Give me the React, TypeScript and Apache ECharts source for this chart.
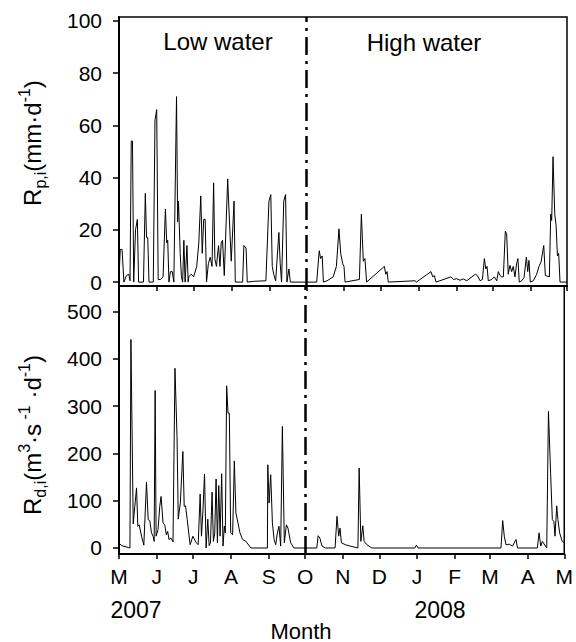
import React, { useEffect, useRef } from "react";
import * as echarts from "echarts";

const monthTicks = [0, 31, 61, 92, 123, 153, 184, 214, 245, 276, 305, 336, 366];
const monthLabels = ["M", "J", "J", "A", "S", "O", "N", "D", "J", "F", "M", "A", "M"];
const precipTicks = [0, 20, 40, 60, 80, 100];
const dischargeTicks = [0, 100, 200, 300, 400, 500];
const dividerDay = 153;

const precipDays = [0,1,2.5,4,6,8,9,10,11,12,13.5,15,16,20,21.5,22.5,23.5,24.5,28,29.4,30.8,32,34,36,37.9,39,39.8,40.8,42,43.5,44.8,47,47.9,48.6,50,51,52,53,54,55.5,56.5,57,59,61,63.5,65.2,66.8,68,69.2,70.4,71.5,73,74.5,76,77.3,78.3,79.6,81.3,82.5,83.5,84.6,86,88.8,90,91.7,94,95,101,102,103.8,104.8,110,120,122.5,124,125.2,126.4,128,130.6,131.7,132.8,134.6,136.1,137.2,138.8,140,161.5,163.6,164.7,166,167,170,175,177.6,179.7,181.1,182.8,183.8,184.7,196.4,198,199.6,200.9,202.3,216.8,217.9,219,220,241.9,243,254.9,256.3,257.6,259,271.2,273.2,275.9,278.6,281.3,284.1,291.1,292.8,295,296.9,298.5,299.6,300.7,301.7,304.5,306.6,308.6,309.9,311.3,312.6,314,315.6,316.7,318,319.4,320.8,322.1,323.5,324.8,325.9,327,328.9,330.9,332.8,333.9,334.9,336,338.5,341.2,343.1,344.8,347,348.3,351.6,352.7,353.5,354.6,356,357.1,358.2,359.2,360.3,366];
const precipValues = [1,12.5,12.5,0,2.5,3,0.5,54,54,0,20,24,0,0,34,17,17,0,0,62,66,1,1,2,28,15,16,0,4,4,0,71,23,31,11,2,0,16,0,14,0,2,3,2,6,15,33,11,24,24,0,7,9.5,6,38,9,6,14,6,15,16,2.5,39.5,26,8,31,0,0,14,13,0,0.3,0.5,31,33.5,6,3,0.5,19,7,0,31,33.5,0,5,0,0,12,9,10,0,0.5,2,6,20.4,11,7,6,0,1,26,8,9,0,6,3,4,0,0.5,0,4,2,2.5,0,2,1,1.3,0.7,1.2,0.5,3,2.5,0.5,1,9,5,6,0.5,1,2,0.5,4,2.5,2,2,19.5,18.5,3,6.4,4,6,2,7,9,0,0.5,1.7,9.6,4,8.3,0,0.5,3,6,7.7,14,2.5,2,26,23.6,48,26,21.7,10,11,0,0];

const dischargeDays = [0,2.2,7.6,9,9.8,11.7,13,14.4,15.5,16.6,18.5,20.4,22.6,24,25.3,26.7,28,28.9,29.7,30.5,32.1,33.5,34.6,36.2,37.6,38.9,40,41.1,42.7,44.4,46,47.7,48.7,50.4,52.5,53.6,54.7,56.1,57.5,58.5,60.7,63.5,65.1,66.7,67.8,68.9,70.3,71.6,73,74.1,75.2,76.5,77.6,78.7,79.8,80.9,82,83.1,84.4,85.5,86.6,87.4,88.5,89.6,90.7,91.8,93.4,94.8,96.1,97.8,99.4,101.6,104.4,108.4,122,122.3,123.4,124.7,126.1,127.5,128.8,130.2,131.5,132.9,134.3,135.9,137.6,138.9,141.1,143.8,162.6,163.7,165.1,166.9,169.6,177.6,179.2,180.6,181.7,182.8,186,190.1,196.4,197.4,198.8,200.4,201.5,203.7,207.8,243.2,244.5,245.9,314,315.4,316.7,318.1,320.8,323.5,326.3,327.6,343.9,345.3,346.7,348,351.6,353,354.8,356.2,357.5,358.4,359.8,360.8,362.2,364.3,366];
const dischargeValues = [10.6,5,1,0,441,51,88,127,46,49,25,6,139,60,58,32,25,14,333,25,39,88,109,53,49,28,35,18,21,13,380,236,61,95,204,88,89,60,28,7,25,11,7,114,25,74,156,0,61,5,11,118,14,32,146,11,132,25,157,4,46,32,343,285,285,32,28,184,74,53,32,18,14,0,0,176,95,155,53,18,7,32,46,4,257,11,49,42,11,0,0,26,21,4,0,0,67,25,42,11,7,4,0,169,14,47,14,7,0,0,6,0,0,58,25,7,8,4,18,0,0,32,4,14,0,289,158,60,56,25,89,60,32,14,11];

const FONT = "'Liberation Sans', Arial, Helvetica, sans-serif";

function zip(a: number[], b: number[]) {
  return a.map((d, i) => [d, b[i]]);
}

export default function App() {
  const ref = useRef<HTMLDivElement>(null);
  useEffect(() => {
    if (!ref.current) return;
    const chart = echarts.init(ref.current, null, { renderer: "svg" });
    const dividerLine = {
      silent: true,
      symbol: ["none", "none"],
      label: { show: false },
      lineStyle: { color: "#000", width: 2.5, type: [18, 6, 3, 6] },
      data: [{ xAxis: dividerDay }],
    };
    const xBase = (gridIndex: number, showLabels: boolean) => ({
      type: "value",
      gridIndex,
      min: 0,
      max: 366,
      splitLine: { show: false },
      axisLine: { show: true, onZero: false, lineStyle: { color: "#000", width: 2 } },
      axisTick: {
        show: true,
        inside: false,
        length: 5,
        customValues: monthTicks,
        lineStyle: { color: "#000", width: 1.5 },
      },
      axisLabel: {
        show: showLabels,
        customValues: monthTicks,
        margin: 12,
        color: "#000",
        fontSize: 21,
        fontFamily: FONT,
        formatter: (v: number) => {
          const i = monthTicks.indexOf(Math.round(v));
          return i >= 0 ? monthLabels[i] : "";
        },
      },
    });
    const yBase = (gridIndex: number, min: number, max: number, ticks: number[]) => ({
      type: "value",
      gridIndex,
      min,
      max,
      splitLine: { show: false },
      axisLine: { show: true, onZero: false, lineStyle: { color: "#000", width: 2 } },
      axisTick: {
        show: true,
        inside: false,
        length: 6,
        customValues: ticks,
        lineStyle: { color: "#000", width: 1.5 },
      },
      axisLabel: {
        show: true,
        customValues: ticks,
        margin: 17,
        color: "#000",
        fontSize: 21,
        fontFamily: FONT,
      },
    });
    const nameRich = {
      n: { fontSize: 24, lineHeight: 32, fontFamily: FONT, fill: "#000", color: "#000" },
      s: { fontSize: 16, lineHeight: 16, verticalAlign: "bottom", fontFamily: FONT, fill: "#000", color: "#000" },
      u: { fontSize: 16, lineHeight: 16, verticalAlign: "top", fontFamily: FONT, fill: "#000", color: "#000" },
    };
    const textEl = (x: number, y: number, text: string, size = 20) => ({
      type: "text",
      x,
      y,
      silent: true,
      style: {
        text,
        fill: "#000",
        fontSize: size,
        fontFamily: FONT,
        textAlign: "center",
        textVerticalAlign: "middle",
        align: "center",
        verticalAlign: "middle",
      },
    });
    const nameEl = (x: number, y: number, text: string) => ({
      type: "text",
      x,
      y,
      rotation: Math.PI / 2,
      silent: true,
      style: {
        text,
        rich: nameRich,
        fill: "#000",
        fontFamily: FONT,
        fontSize: 24,
        textAlign: "center",
        textVerticalAlign: "middle",
        align: "center",
        verticalAlign: "middle",
      },
    });
    chart.setOption({
      animation: false,
      backgroundColor: "#fff",
      grid: [
        { left: 119, width: 448, top: 17, height: 269, show: true, borderColor: "#000", borderWidth: 1.5, backgroundColor: "transparent" },
        { left: 119, width: 448, top: 286, height: 268, show: true, borderColor: "#000", borderWidth: 1.5, backgroundColor: "transparent" },
      ],
      xAxis: [xBase(0, false), xBase(1, true)],
      yAxis: [
        yBase(0, -1.5, 101.5, precipTicks),
        yBase(1, -12.7, 554, dischargeTicks),
      ],
      series: [
        {
          type: "line",
          xAxisIndex: 0,
          yAxisIndex: 0,
          data: zip(precipDays, precipValues),
          showSymbol: false,
          symbol: "none",
          lineStyle: { color: "#000", width: 1 },
          markLine: dividerLine,
        },
        {
          type: "line",
          xAxisIndex: 1,
          yAxisIndex: 1,
          data: zip(dischargeDays, dischargeValues),
          showSymbol: false,
          symbol: "none",
          lineStyle: { color: "#000", width: 1 },
          markLine: dividerLine,
        },
      ],
      graphic: [
        textEl(218, 41, "Low water", 24),
        textEl(424, 42, "High water", 24),
        textEl(136, 610, "2007", 23),
        textEl(440, 610, "2008", 23),
        textEl(301, 631, "Month", 22),
        nameEl(32, 143, "{n|R}{s|p,i}{n|(mm·d}{u|-1}{n|)}"),
        nameEl(32, 435, "{n|R}{s|d,i}{n|(m}{u|3}{n|·s}{u| -1}{n| ·d}{u|-1}{n|)}"),
      ],
    });
    return () => chart.dispose();
  }, []);
  return (
    <div
      ref={ref}
      style={{ position: "absolute", left: 0, top: 0, width: 576, height: 642, background: "#fff" }}
    />
  );
}
